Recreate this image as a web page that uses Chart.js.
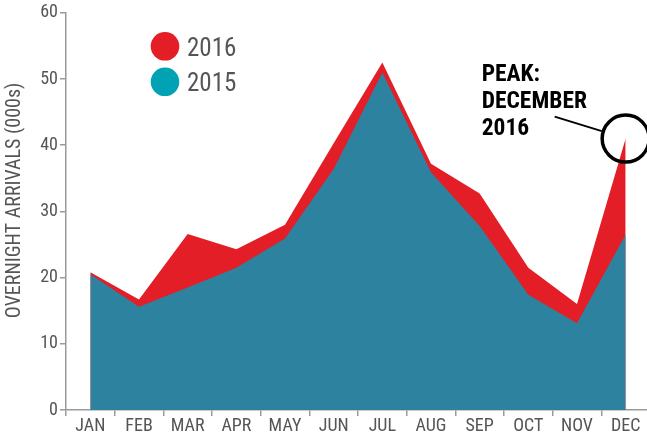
<!DOCTYPE html>
<html>
<head>
<meta charset="utf-8">
<script src="https://cdn.jsdelivr.net/npm/chart.js@4"></script>
<style>
  html, body { margin: 0; padding: 0; background: #fff; overflow: hidden; }
  #wrap { position: relative; width: 650px; height: 433px; }
</style>
</head>
<body>
<div id="wrap"><canvas id="arrivalsChart"></canvas></div>
<script>
const months = ["JAN", "FEB", "MAR", "APR", "MAY", "JUN", "JUL", "AUG", "SEP", "OCT", "NOV", "DEC"];
const arrivals2016 = [20.8, 16.7, 26.6, 24.3, 28.0, 40.3, 52.5, 37.2, 32.7, 21.5, 16.0, 41.0];
const arrivals2015 = [20.5, 15.6, 18.5, 21.5, 25.9, 36.4, 51.0, 35.9, 27.8, 17.4, 13.1, 26.5];
const legendItems = [
  { label: "2016", color: "#e31e26" },
  { label: "2015", color: "#00a2b4" },
];
const peakLabel = ["PEAK:", "DECEMBER", "2016"];
const peakIndex = 11;
const yTitle = "OVERNIGHT ARRIVALS (000s)";

const narrow = "'Roboto Condensed', 'Liberation Sans Narrow', 'DejaVu Sans Condensed', sans-serif";
const axisGray = "#9a9a9a";
const textGray = "#555555";

// legend circles, axis title and the peak call-out
const overlayPlugin = {
  id: "overlay",
  afterDatasetsDraw(chart) {
    const { ctx, chartArea: { left, top, bottom }, scales: { x, y } } = chart;
    ctx.save();

    // y axis title
    ctx.save();
    ctx.translate(left - 51, (top + bottom) / 2 - 11);
    ctx.rotate(-Math.PI / 2);
    ctx.fillStyle = textGray;
    ctx.font = "20px " + narrow;
    ctx.textAlign = "center";
    ctx.textBaseline = "middle";
    ctx.fillText(yTitle, 0, 0);
    ctx.restore();

    // legend
    legendItems.forEach((item, i) => {
      const cy = top + 33.5 + i * 35.5;
      ctx.fillStyle = item.color;
      ctx.beginPath();
      ctx.arc(left + 99, cy, 14.3, 0, Math.PI * 2);
      ctx.fill();
      ctx.fillStyle = textGray;
      ctx.font = "25px " + narrow;
      ctx.textBaseline = "alphabetic";
      ctx.textAlign = "left";
      ctx.fillText(item.label, left + 121, cy + 9.2);
    });

    // peak annotation
    const px = x.getPixelForValue(peakIndex);
    const py = y.getPixelForValue(arrivals2016[peakIndex]);
    ctx.strokeStyle = "#000";
    ctx.lineWidth = 3.5;
    ctx.beginPath();
    ctx.arc(px, py, 23.5, 0, Math.PI * 2);
    ctx.stroke();

    const sx = px - 71, sy = py - 22;
    const ang = Math.atan2(py - sy, px - sx);
    ctx.lineWidth = 1.8;
    ctx.beginPath();
    ctx.moveTo(sx, sy);
    ctx.lineTo(px - Math.cos(ang) * 25, py - Math.sin(ang) * 25);
    ctx.stroke();

    ctx.fillStyle = "#000";
    ctx.font = "bold 23.5px " + narrow;
    peakLabel.forEach((line, i) => {
      ctx.fillText(line, px - 144, py - 58 + i * 27.2);
    });
    ctx.restore();
  },
};

new Chart(document.getElementById("arrivalsChart"), {
  type: "line",
  data: {
    labels: months,
    datasets: [
      {
        label: "2015",
        data: arrivals2015,
        backgroundColor: "#2d82a0",
        borderWidth: 0,
        pointRadius: 0,
        fill: "origin",
        tension: 0,
      },
      {
        label: "2016",
        data: arrivals2016,
        backgroundColor: "#e31e26",
        borderWidth: 0,
        pointRadius: 0,
        fill: "origin",
        tension: 0,
      },
    ],
  },
  options: {
    responsive: true,
    maintainAspectRatio: false,
    animation: false,
    layout: { padding: { top: 9, left: 0, right: 0, bottom: 0 } },
    plugins: {
      legend: { display: false },
      tooltip: { enabled: false },
    },
    scales: {
      x: {
        offset: true,
        grid: {
          offset: true,
          drawOnChartArea: false,
          color: axisGray,
          tickLength: 6,
          lineWidth: 1.5,
        },
        border: { color: axisGray, width: 1.5 },
        ticks: {
          color: textGray,
          padding: 0,
          maxRotation: 0,
          font: { family: narrow, size: 18 },
        },
        afterFit(scale) {
          scale.height = 23;
        },
      },
      y: {
        min: 0,
        max: 60,
        ticks: {
          stepSize: 10,
          color: textGray,
          padding: 2,
          font: { family: narrow, size: 18 },
        },
        grid: {
          drawOnChartArea: false,
          color: axisGray,
          tickLength: 6,
          lineWidth: 1.5,
        },
        border: { color: axisGray, width: 1.5 },
        afterFit(scale) {
          scale.width = 66;
        },
      },
    },
  },
  plugins: [overlayPlugin],
});
</script>
</body>
</html>
